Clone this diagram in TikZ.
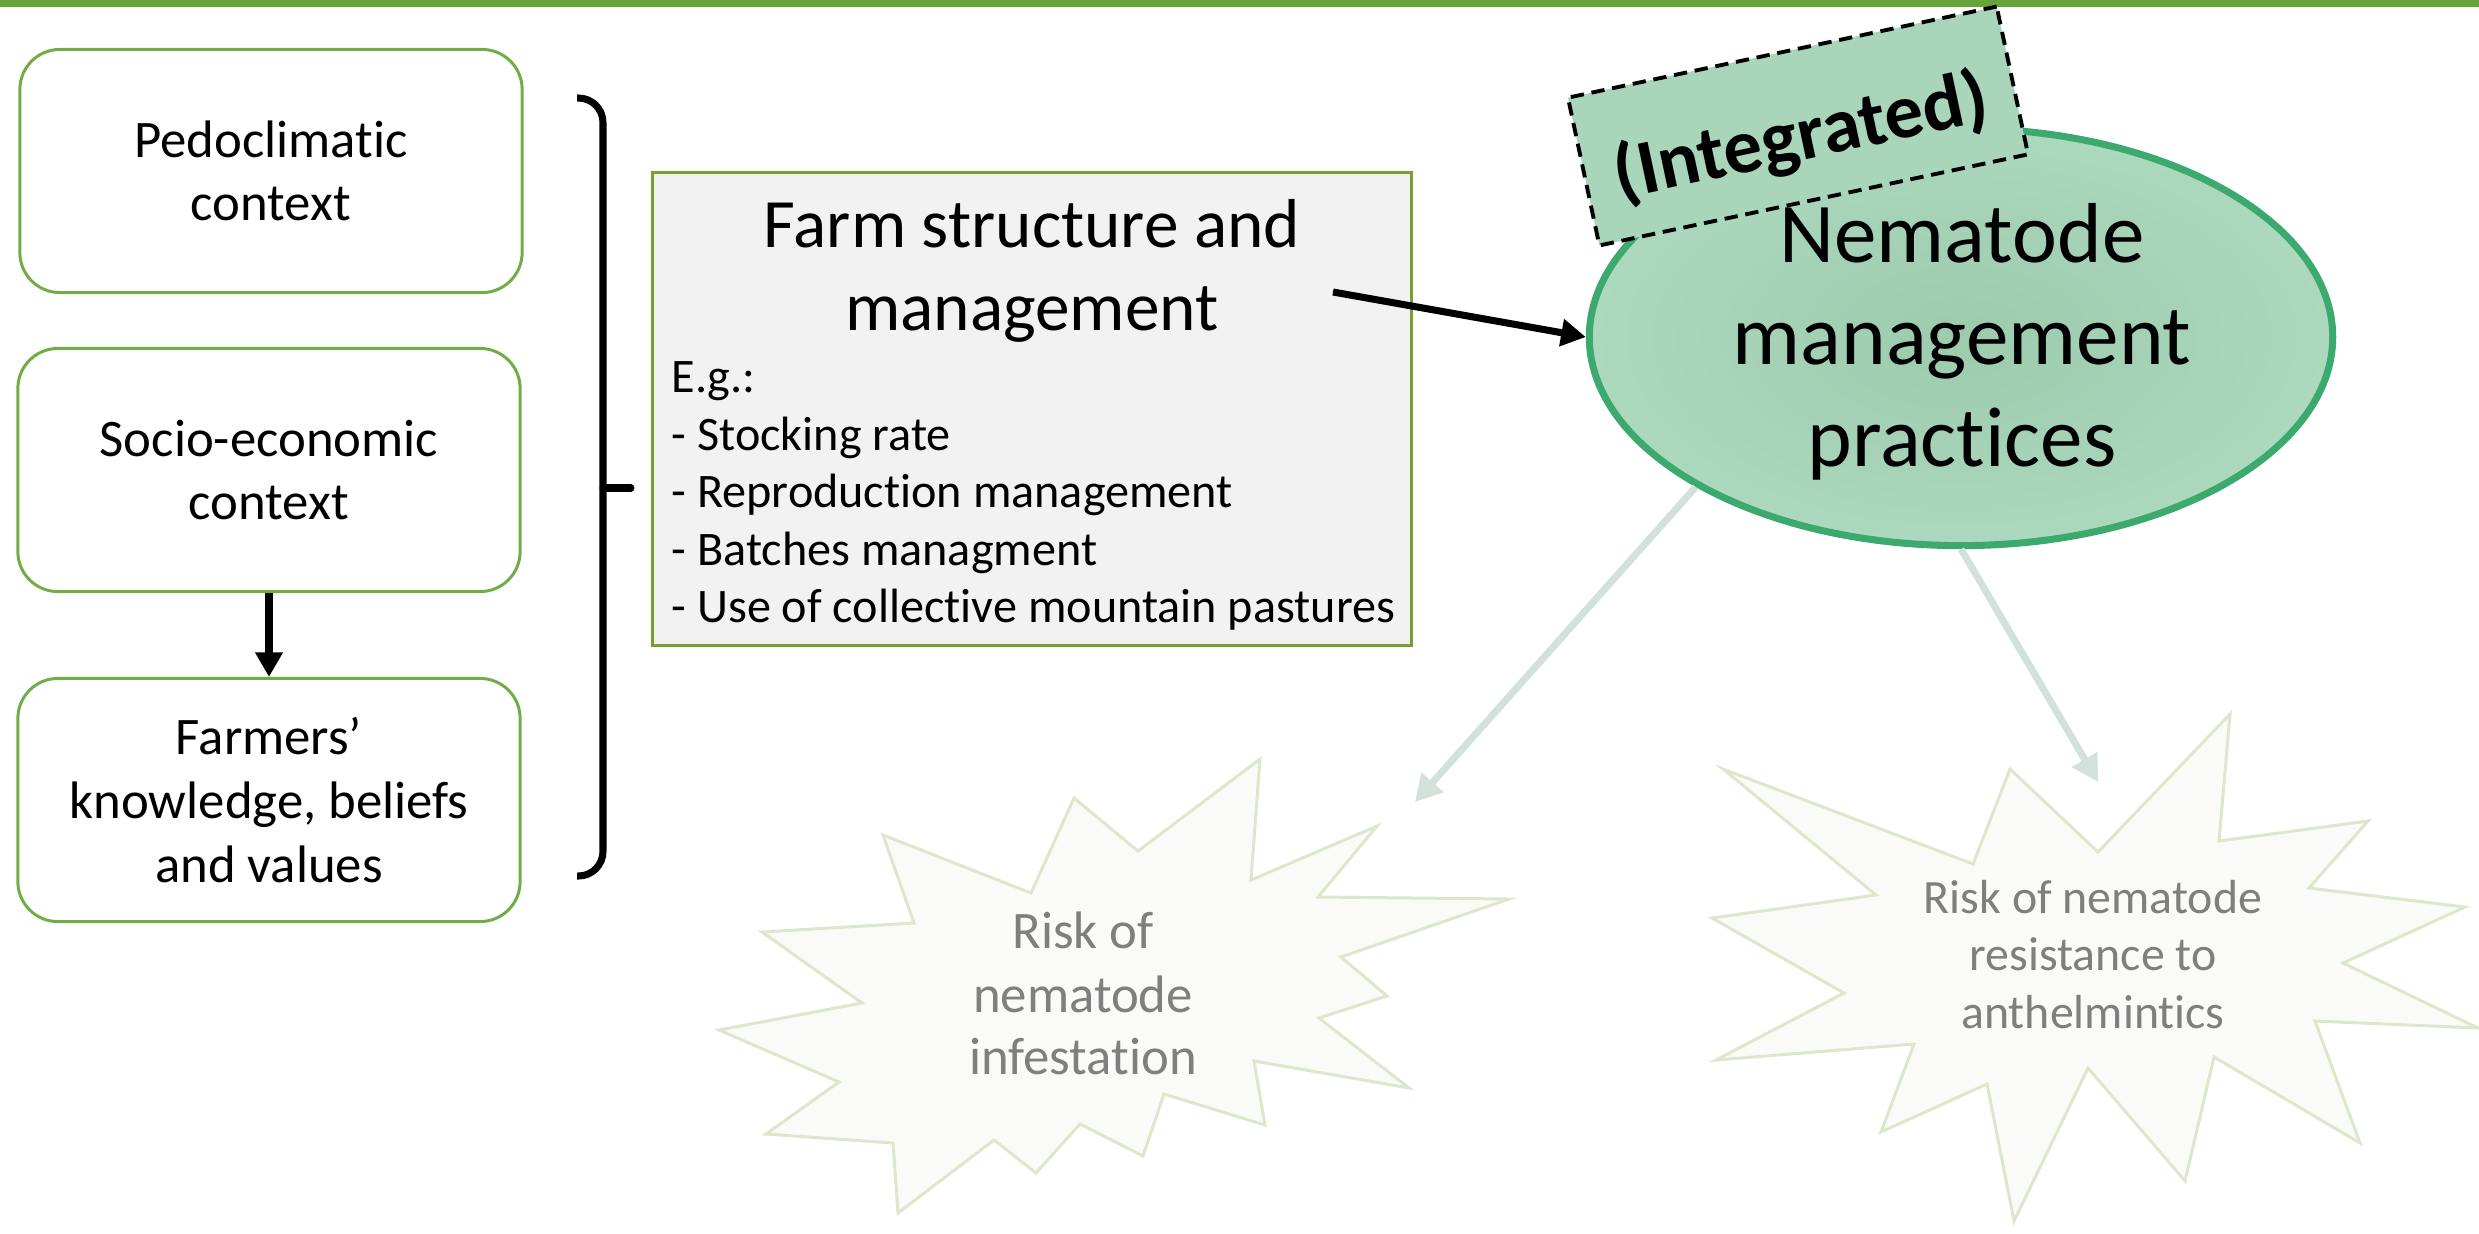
\documentclass[tikz,border=0pt]{standalone}
\usepackage{fontspec}
\setmainfont{Carlito}[Ligatures={NoCommon,NoContextual}]
\usetikzlibrary{shapes.geometric,arrows.meta}
\definecolor{topbar}{HTML}{66A43A}
\definecolor{boxgreen}{HTML}{70AD47}
\definecolor{olive}{HTML}{77A030}
\definecolor{farmfill}{HTML}{F2F2F2}
\definecolor{nemborder}{HTML}{3CA96E}
\definecolor{nemout}{HTML}{ACD8BD}
\definecolor{nemin}{HTML}{9DCBAE}
\definecolor{intfill}{HTML}{A9D6BA}
\definecolor{lightarr}{HTML}{D3E1DB}
\definecolor{starborder}{HTML}{DCE7CB}
\definecolor{starfill}{HTML}{FAFBF8}
\definecolor{startext}{HTML}{7F7F7F}
\begin{document}
\begin{tikzpicture}[x=0.01cm,y=-0.01cm,
  ctxbox/.style={draw=boxgreen, line width=0.85pt, rounded corners=0.4cm,
    minimum width=5.02cm, minimum height=2.43cm, inner sep=0pt, align=center,
    font=\fontsize{15}{18.1}\selectfont},
  farmbox/.style={draw=olive, fill=farmfill, line width=0.9pt,
    minimum width=7.59cm, minimum height=4.73cm, inner sep=0pt},
  nemshape/.style={ellipse, draw=nemborder, line width=2pt, inner sep=0pt,
    minimum width=7.43cm, minimum height=4.17cm, inner color=nemin, outer color=nemout},
  intbox/.style={draw=black, fill=intfill, line width=1.1pt, dash pattern=on 3.8pt off 2.2pt,
    minimum width=4.38cm, minimum height=1.51cm, inner sep=0pt, rotate=12},
  inttext/.style={inner sep=0pt, rotate=12, font=\bfseries\fontsize{22}{26}\selectfont},
  txt/.style={anchor=base, inner sep=0pt},
  txtw/.style={anchor=base west, inner sep=0pt},
  titlefont/.style={font=\fontsize{19.7}{23}\selectfont},
  listfont/.style={font=\fontsize{13.7}{16}\selectfont},
  nemfont/.style={font=\fontsize{24.2}{29}\selectfont},
  riskA/.style={font=\fontsize{15}{18}\selectfont, text=startext},
  riskB/.style={font=\fontsize{13.6}{16}\selectfont, text=startext},
  blkarrow/.style={draw=black, line width=2pt, -{Triangle[length=7pt,width=7.5pt]}},
  lightarrow/.style={draw=lightarr, line width=2pt, -{Triangle[length=7.5pt,width=8pt]}},
  burst/.style={draw=starborder, fill=starfill, line width=0.85pt, line join=miter},
  bracket/.style={draw=black, line width=2pt}
]
\useasboundingbox (0,0) rectangle (2479,1233);
\fill[topbar] (0,0) rectangle (2479,7);

% left context boxes
\node[ctxbox] (box1) at (271,171) {Pedoclimatic\\context};
\node[ctxbox] (box2) at (269,470) {Socio-economic\\context};
\node[ctxbox] (box3) at (269,800) {Farmers’\\knowledge, beliefs\\and values};
\draw[blkarrow] (box2.south) -- (box3.north);

% bracket
\draw[bracket, rounded corners=7pt] (577,98) -- (603,98) -- (603,876) -- (577,876);
\draw[bracket, line cap=round] (603,488) -- (631,488);

% farm structure box
\node[farmbox] (farm) at (1032,409) {};
\node[txt, titlefont] (ft1) at (1032,247) {Farm structure and};
\node[txt, titlefont] (ft2) at (1032,330) {management};
\node[txtw, listfont] (fl0) at (671,392) {E.g.:};
\node[txtw, listfont] (fl1) at (671,450) {- Stocking rate};
\node[txtw, listfont] (fl2) at (671,507) {- Reproduction management};
\node[txtw, listfont] (fl3) at (671,565) {- Batches managment};
\node[txtw, listfont] (fl4) at (671,622) {- Use of collective mountain pastures};

% nematode management ellipse
\node[nemshape] (nem) at (1961,337) {};
\node[txt, nemfont] (nt1) at (1962,262) {Nematode};
\node[txt, nemfont] (nt2) at (1962,364) {management};
\node[txt, nemfont] (nt3) at (1962,466) {practices};
\node[intbox] (integ) at (1798,126) {};
\node[inttext] (intt) at (1801,138) {(Integrated)};

\coordinate (farmout) at (1333,292);
\draw[blkarrow] (farmout) -- (nem.west);

% starbursts
\draw[burst] (883,835) -- (1031,893) -- (1074,798) -- (1138,851) -- (1260,759)
  -- (1251,880) -- (1377,826) -- (1318,897) -- (1509,899) -- (1341,957)
  -- (1387,996) -- (1319,1018) -- (1409,1088) -- (1254,1061) -- (1265,1125)
  -- (1164,1094) -- (1143,1156) -- (1080,1124) -- (1036,1173) -- (994,1140)
  -- (898,1213) -- (893,1143) -- (766,1134) -- (839,1082) -- (719,1030)
  -- (862,1003) -- (762,932) -- (914,923) -- cycle;
\node[txt, riskA] (r1a) at (1083,948) {Risk of};
\node[txt, riskA] (r1b) at (1083,1012) {nematode};
\node[txt, riskA] (r1c) at (1083,1074) {infestation};

\draw[burst] (1723,769) -- (1973,864) -- (2010,769) -- (2098,852) -- (2230,714)
  -- (2219,841) -- (2368,821) -- (2309,888) -- (2465,907) -- (2343,963)
  -- (2478,1028) -- (2315,1021) -- (2360,1143) -- (2214,1057) -- (2185,1181)
  -- (2088,1068) -- (2014,1221) -- (1987,1084) -- (1881,1132) -- (1914,1044)
  -- (1716,1060) -- (1844,993) -- (1712,918) -- (1876,895) -- cycle;
\node[txt, riskB] (r2a) at (2093,913) {Risk of nematode};
\node[txt, riskB] (r2b) at (2093,970) {resistance to};
\node[txt, riskB] (r2c) at (2093,1028) {anthelmintics};

% light arrows
\coordinate (tip1) at (1415,802);
\coordinate (tip2) at (2098,782);
\draw[lightarrow] (nem.south west) -- (tip1);
\draw[lightarrow] (nem.south) -- (tip2);
\end{tikzpicture}
\end{document}
